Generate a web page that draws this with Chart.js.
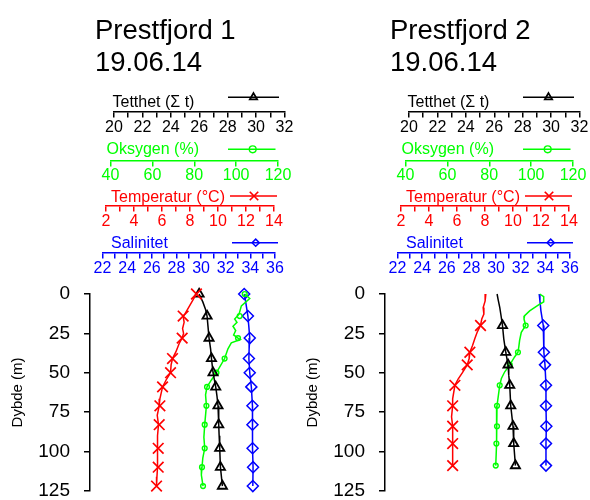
<!DOCTYPE html>
<html>
<head>
<meta charset="utf-8">
<title>Prestfjord 19.06.14</title>
<script src="https://cdn.jsdelivr.net/npm/chart.js@4.4.1/dist/chart.umd.min.js"></script>
<style>
  html, body { margin: 0; padding: 0; background: #fff; }
  #panels { display: flex; width: 590px; height: 500px; }
  canvas { display: block; }
</style>
</head>
<body>
<div id="panels">
  <canvas id="prestfjord1" width="295" height="500"></canvas>
  <canvas id="prestfjord2" width="295" height="500"></canvas>
</div>
<script>
// Prestfjord 1 - marked samples (depth in m)
const p1Depth = [0, 14, 28, 41, 50, 59, 71, 83, 98, 110, 122];
const p1Dens  = [25.99, 26.55, 26.69, 26.86, 26.97, 27.16, 27.32, 27.37, 27.44, 27.49, 27.63];
const p1Oxy   = [104.1, 101.7, 100.9, 94.5, 90.6, 86.1, 85.8, 85.0, 85.0, 83.7, 84.2];
const p1Temp  = [8.46, 7.51, 7.44, 6.75, 6.61, 6.04, 5.85, 5.80, 5.73, 5.73, 5.61];
const p1Sal   = [33.50, 33.80, 33.95, 33.88, 33.95, 34.08, 34.17, 34.17, 34.18, 34.22, 34.20];

// Prestfjord 1 - profiles, [depth, value]
const p1DensLine = [[0, 25.99], [5, 26.25], [10, 26.45], [14, 26.55], [21, 26.62], [28, 26.69], [35, 26.80], [41, 26.86],
  [50, 26.97], [59, 27.16], [65, 27.25], [71, 27.32], [83, 27.37], [90, 27.40], [98, 27.44], [110, 27.49], [122, 27.63]];
const p1OxyLine = [[0, 104.1], [2.9, 106.5], [7.5, 102.5], [12.8, 101.4], [15.9, 99.3], [18, 100.4], [20.5, 98.5], [23.2, 99.8],
  [26, 98.8], [28, 100.9], [28.9, 102.0], [31, 97.7], [34.8, 96.1], [41, 94.5], [50, 90.6], [54.6, 88.2], [59, 86.1],
  [64, 85.4], [71, 85.8], [83, 85.0], [91, 84.6], [98, 85.0], [104, 84.1], [110, 83.7], [115, 83.4], [122, 84.2]];
const p1TempLine = [[0, 8.46], [6.5, 8.04], [12.8, 7.63], [14, 7.51], [18, 7.58], [22, 7.47], [25, 7.54], [28, 7.44],
  [31.6, 7.22], [36.8, 6.99], [41, 6.75], [45, 6.65], [50, 6.61], [54, 6.33], [59, 6.04], [66.6, 5.85], [71, 5.80],
  [77, 5.66], [83, 5.75], [90, 5.68], [98, 5.70], [104, 5.66], [110, 5.68], [116, 5.64], [122, 5.61]];
const p1SalLine = [[0, 33.50], [4, 33.60], [9, 33.70], [14, 33.80], [21, 33.88], [28, 33.95], [35, 33.90], [41, 33.88],
  [50, 33.95], [59, 34.08], [71, 34.17], [83, 34.17], [98, 34.18], [110, 34.22], [122, 34.20]];

// Prestfjord 2 - marked samples
const p2Depth = [20, 37, 45, 58, 71, 84, 95, 109];
const p2Dens  = [26.58, 26.81, 26.97, 27.09, 27.16, 27.32, 27.37, 27.49];
const p2Oxy   = [97.4, 93.7, 89.8, 85.0, 83.7, 83.7, 83.4, 83.1];
const p2Temp  = [7.68, 6.92, 6.73, 5.85, 5.69, 5.69, 5.69, 5.69];
const p2Sal   = [33.83, 33.88, 33.97, 34.05, 34.05, 34.08, 34.05, 34.05];

// Prestfjord 2 - profiles, [depth, value]
const p2DensLine = [[0, 26.20], [3.4, 26.27], [8.6, 26.39], [12.7, 26.46], [20, 26.58], [28.5, 26.67], [37, 26.81],
  [45, 26.97], [51.5, 27.02], [58, 27.09], [71, 27.16], [84, 27.32], [95, 27.37], [109, 27.49]];
const p2OxyLine = [[0, 104.1], [1.7, 106.0], [5, 106.0], [6.5, 104.1], [10.7, 99.3], [13.8, 96.9], [15.9, 96.6], [20, 97.4],
  [24.3, 95.3], [29.5, 94.5], [33.7, 94.1], [37, 93.7], [40, 92.1], [45, 89.8], [49.4, 87.4], [53.6, 85.8], [58, 85.0],
  [71, 83.7], [78, 83.4], [84, 83.7], [95, 83.4], [109, 83.1]];
const p2TempLine = [[0, 8.06], [4.4, 8.01], [8.6, 7.87], [12.8, 7.92], [15.9, 7.77], [20, 7.68], [24.3, 7.44], [28.5, 7.27],
  [32.7, 7.11], [37, 6.92], [41, 6.87], [45, 6.73], [49.8, 6.40], [54, 6.08], [58, 5.85], [66.6, 5.69], [71, 5.69],
  [78, 5.61], [84, 5.69], [95, 5.69], [109, 5.69]];
const p2SalLine = [[0, 33.50], [4.4, 33.56], [10.7, 33.64], [20, 33.83], [37, 33.88], [45, 33.97], [58, 34.05], [71, 34.05],
  [84, 34.08], [95, 34.05], [109, 34.05]];

// tick labels
const depthTicks = [0, 25, 50, 75, 100, 125];
const densLabels = [20, 22, 24, 26, 28, 30, 32];
const oxyLabels  = [40, 60, 80, 100, 120];
const tempLabels = [2, 4, 6, 8, 10, 12, 14];
const salLabels  = [22, 24, 26, 28, 30, 32, 34, 36];

const FONT = '"Liberation Sans", Arial, Helvetica, sans-serif';
Chart.defaults.font.family = FONT;
Chart.defaults.color = '#000';

const AREA_TOP = 294, AREA_BOTTOM = 493;
const depthAt = px => (px - AREA_TOP) * depthTicks[depthTicks.length - 1] / (AREA_BOTTOM - AREA_TOP);

const styles = {
  dens: { axis: 'xD', color: '#000000', pointStyle: 'triangle', radius: 5.3, keyRadius: 4.2, width: 1.8 },
  oxy:  { axis: 'xO', color: '#00ff00', pointStyle: 'circle', radius: 2.4, keyRadius: 3.4, width: 1.4 },
  temp: { axis: 'xT', color: '#ff0000', pointStyle: 'crossRot', radius: 7.5, keyRadius: 6, width: 1.7 },
  sal:  { axis: 'xS', color: '#0000ff', pointStyle: 'rectRot', radius: 5.5, keyRadius: 3.6, width: 1.5 }
};

const captions = [
  { key: 'dens', text: 'Tetthet (\u03A3 t)', textX: 112.5, baseY: 106.5, keyX: [228, 279], keyY: 97.3, markX: 253.5 },
  { key: 'oxy', text: 'Oksygen (%)', textX: 106.5, baseY: 154.3, keyX: [228, 275.5], keyY: 149.3, markX: 252.7 },
  { key: 'temp', text: 'Temperatur (\u00B0C)', textX: 111, baseY: 202.2, keyX: [230, 277], keyY: 196, markX: 254 },
  { key: 'sal', text: 'Salinitet', textX: 111, baseY: 247.8, keyX: [232, 278], keyY: 242.7, markX: 255.7 }
];

// linear scale that only spans its own tick range, like an R axis
const LinearScale = Chart.LinearScale || Chart.registry.getScale('linear');
class SpanScale extends LinearScale {
  configure() {
    const o = this.options;
    if (o.spanFrom !== undefined) {
      this.left = o.spanFrom;
      this.right = o.spanTo;
      this.width = o.spanTo - o.spanFrom;
    }
    super.configure();
  }
}
SpanScale.id = 'span';
SpanScale.defaults = {};
Chart.register(SpanScale);

function topAxis(labels, step, color, axisY, spanFrom, spanTo) {
  return {
    type: 'span',
    axis: 'x',
    position: { y: depthAt(axisY) },
    spanFrom: spanFrom,
    spanTo: spanTo,
    min: labels[0],
    max: labels[labels.length - 1],
    grid: { display: true, drawOnChartArea: false, drawTicks: true, tickLength: 5, color: color, lineWidth: 1.5 },
    border: { display: true, color: color, width: 1.5 },
    ticks: {
      stepSize: step, autoSkip: false, maxRotation: 0, minRotation: 0, includeBounds: false,
      padding: 1, color: color, font: { size: 16 },
      callback: v => labels.includes(v) ? String(v) : ''
    }
  };
}

function headingAndKeys(heading) {
  return {
    id: 'headingAndKeys',
    afterDraw(chart) {
      const ctx = chart.ctx;
      ctx.save();
      ctx.textAlign = 'left';
      ctx.textBaseline = 'alphabetic';
      ctx.fillStyle = '#000';
      ctx.font = '27.5px ' + FONT;
      heading.forEach((line, i) => ctx.fillText(line, 95, 38.5 + i * 32.4));
      ctx.font = '16px ' + FONT;
      captions.forEach(c => {
        const st = styles[c.key];
        ctx.fillStyle = st.color;
        ctx.fillText(c.text, c.textX, c.baseY);
        ctx.strokeStyle = st.color;
        ctx.lineWidth = 1.5;
        ctx.beginPath();
        ctx.moveTo(c.keyX[0], c.keyY);
        ctx.lineTo(c.keyX[1], c.keyY);
        ctx.stroke();
        ctx.fillStyle = 'rgba(0,0,0,0)';
        ctx.lineWidth = st.width;
        Chart.helpers.drawPoint(ctx, { pointStyle: st.pointStyle, radius: st.keyRadius, borderWidth: st.width, rotation: 0 }, c.markX, c.keyY);
      });
      ctx.restore();
    }
  };
}

function makePanel(canvasId, heading, series) {
  const datasets = [];
  series.forEach(s => {
    const st = styles[s.key];
    datasets.push({
      data: s.line.map(p => ({ x: p[1], y: p[0] })),
      xAxisID: st.axis, yAxisID: 'y',
      showLine: true, pointRadius: 0, borderColor: st.color, borderWidth: 1.5, clip: false
    });
    datasets.push({
      data: s.depth.map((d, i) => ({ x: s.values[i], y: d })),
      xAxisID: st.axis, yAxisID: 'y',
      showLine: false, pointStyle: st.pointStyle, pointRadius: st.radius, pointBorderWidth: st.width,
      pointBorderColor: st.color, pointBackgroundColor: 'rgba(0,0,0,0)', clip: false
    });
  });

  new Chart(document.getElementById(canvasId), {
    type: 'scatter',
    data: { datasets: datasets },
    options: {
      responsive: false,
      animation: false,
      devicePixelRatio: 1,
      events: [],
      layout: { padding: { top: AREA_TOP, left: 0, right: 5, bottom: 500 - AREA_BOTTOM } },
      plugins: { legend: { display: false }, tooltip: { enabled: false }, title: { display: false } },
      scales: {
        y: {
          type: 'linear', position: 'left', reverse: true,
          min: depthTicks[0], max: depthTicks[depthTicks.length - 1],
          afterFit: s => { s.width = 90; s.paddingTop = 0; s.paddingBottom = 0; },
          grid: { drawOnChartArea: false, tickLength: 6, color: '#000', lineWidth: 1.5 },
          border: { display: true, color: '#000', width: 1.5 },
          ticks: { stepSize: 25, padding: 14, color: '#000', font: { size: 19 }, autoSkip: false },
          title: {
            display: true, text: 'Dybde (m)', color: '#000', align: 'center',
            font: { family: FONT, size: 15, lineHeight: 1.2 }, padding: { top: 9, bottom: 0 }
          }
        },
        xD: topAxis(densLabels, 1, '#000000', 110, 114, 284.5),
        xO: topAxis(oxyLabels, 20, '#00ff00', 159, 110.5, 278),
        xT: topAxis(tempLabels, 1, '#ff0000', 205, 106, 274),
        xS: topAxis(salLabels, 1, '#0000ff', 252.3, 102.5, 275)
      }
    },
    plugins: [headingAndKeys(heading)]
  });
}

makePanel('prestfjord1', ['Prestfjord 1', '19.06.14'], [
  { key: 'temp', depth: p1Depth, values: p1Temp, line: p1TempLine },
  { key: 'dens', depth: p1Depth, values: p1Dens, line: p1DensLine },
  { key: 'oxy', depth: p1Depth, values: p1Oxy, line: p1OxyLine },
  { key: 'sal', depth: p1Depth, values: p1Sal, line: p1SalLine }
]);

makePanel('prestfjord2', ['Prestfjord 2', '19.06.14'], [
  { key: 'temp', depth: p2Depth, values: p2Temp, line: p2TempLine },
  { key: 'dens', depth: p2Depth, values: p2Dens, line: p2DensLine },
  { key: 'oxy', depth: p2Depth, values: p2Oxy, line: p2OxyLine },
  { key: 'sal', depth: p2Depth, values: p2Sal, line: p2SalLine }
]);
</script>
</body>
</html>
